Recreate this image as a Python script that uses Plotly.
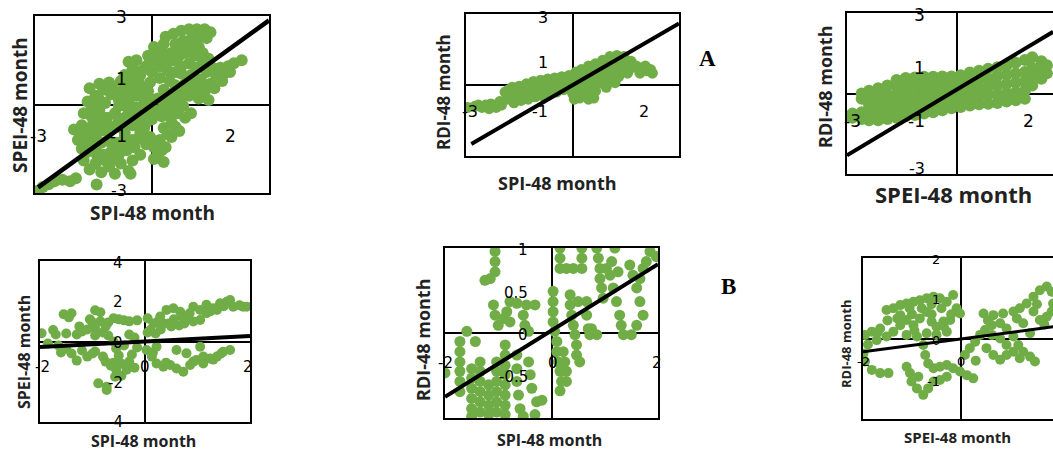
import plotly.graph_objects as go

GREEN = "#70AD47"

# ---------------- Panel 1: SPI-48 vs SPEI-48 ----------------
p1_x = [-2.92,-2.8,-2.65,-2.5,-2.3,-2.1,-1.95,-1.42,
        -1.75,-1.6,-1.45,-1.3,-1.1,-0.95,-0.8,-0.6,-0.5,
        -1.65,-1.45,-1.25,-1.05,-0.85,-0.65,-0.45,-0.3,
        -1.9,-1.7,-1.5,-1.3,-1.1,-0.9,-0.7,-0.5,
        -2.0,-1.8,-1.6,-1.4,-1.2,-0.95,-0.75,-0.5,-0.3,
        -1.75,-1.55,-1.35,-1.15,-0.95,-0.7,-0.45,-0.25,-0.1,
        -1.65,-1.45,-1.25,-1.05,-0.85,-0.6,-0.4,-0.2,
        -1.6,-1.35,-1.1,-0.7,-0.5,-0.3,-0.1,
        -0.7,-0.5,-0.3,-0.15,0.0,-0.6,-0.4,
        -0.1,0.1,0.25,0.05,0.3,0.5,
        0.35,0.55,0.75,0.95,1.15,1.35,1.5,1.4,1.2,1.0,0.8,0.6,0.9,1.2,1.1,0.7,0.4,
        0.15,0.3,0.45,0.6,0.75,0.2,0.4,-0.05,0.1,0.0,-0.2,-0.05,
        0.25,0.4,0.55,0.7,0.85,1.0,1.15,
        0.3,0.5,0.65,0.8,0.95,1.1,1.25,1.4,1.55,
        0.2,0.35,0.5,0.7,0.15,0.05,0.3,
        1.2,1.35,1.5,1.65,1.45,1.0,
        1.75,1.95,2.1,2.3,1.85,
        -0.55,0.05,
        -1.55,-1.35,-1.2,-1.0,-0.85,-0.65,-0.8,-0.6,-0.35,-0.25,-0.45,-0.05,0.15,0.2,0.35,0.55,
        0.65,0.85,1.0,1.3,1.45,1.3,0.95,0.75,1.05,0.9,0.6,0.45,0.3,0.2,0.45,0.6,0.75,1.35,1.6,
        1.8,2.0,0.4,0.6,0.85,0.25,-0.15,-0.35,-0.6,-0.8,-1.0,-1.2,-1.4,-1.55,-1.8,-1.85,-1.65,
        -1.4,-1.15,-0.85,-0.6,-0.35,-0.15,-0.2,-0.4,-0.6,-0.85,-1.5,-1.3,-0.05,-0.25,-0.45,-0.7]
p1_y = [-2.92,-2.8,-2.7,-2.6,-2.55,-2.6,-2.5,-2.71,
        -1.9,-2.2,-2.0,-2.3,-2.1,-2.35,-2.0,-2.25,-1.9,
        -1.6,-1.5,-1.7,-1.6,-1.7,-1.55,-1.45,-1.7,
        -1.2,-1.3,-1.15,-1.3,-1.25,-1.3,-1.1,-1.2,
        -0.85,-0.7,-0.8,-0.65,-0.9,-0.75,-0.8,-0.7,-0.95,
        -0.3,-0.4,-0.2,-0.45,-0.3,-0.45,-0.35,-0.5,-0.2,
        0.1,0.3,0.5,0.35,0.15,0.1,0.3,0.05,
        0.55,0.7,0.75,0.55,0.75,0.6,0.45,
        1.0,1.2,1.0,1.3,1.1,1.45,1.5,
        1.65,1.5,1.8,1.95,2.05,1.75,
        2.3,2.4,2.5,2.55,2.55,2.55,2.45,2.25,2.3,2.2,2.15,2.05,1.9,1.95,1.65,1.65,1.45,
        0.2,0.5,0.8,1.1,1.3,0.9,1.15,0.75,-0.2,-0.5,-0.8,-1.1,
        -0.4,-0.1,0.15,0.4,0.7,1.0,1.25,
        -0.8,-0.6,-0.3,-0.05,0.3,0.55,0.85,1.1,1.25,
        -1.2,-1.45,-1.1,-0.9,-1.65,-1.85,-1.95,
        0.2,0.45,0.7,0.95,0.15,-0.3,
        1.25,1.3,1.4,1.5,1.05,
        -2.35,-1.45,
        -0.05,0.15,0.05,0.55,0.4,0.35,0.8,0.8,0.8,1.15,0.95,1.45,1.7,1.3,1.6,1.5,
        1.9,1.75,1.85,1.75,1.55,1.5,1.4,1.05,0.75,0.5,0.65,0.35,0.05,-0.3,-0.35,-0.05,0.2,0.65,0.55,
        0.8,1.1,-1.0,-0.75,-0.45,-1.55,-1.35,-1.15,-1.3,-1.5,-1.85,-1.9,-1.75,-1.35,-1.5,-0.95,-1.05,
        -0.95,-0.65,-0.55,-0.6,-0.7,-0.6,-1.05,-0.1,-0.2,-0.05,-0.6,-0.45,0.2,0.35,0.5,-0.95]
p1_fit_x = [-2.92, 3.0]
p1_fit_y = [-2.81, 2.85]

# ---------------- Panel 2: SPI-48 vs RDI-48 ----------------
p2_x = [-2.95,-2.75,-2.55,-2.35,-2.15,-2.0,-2.3,
        -1.9,-1.85,-1.7,-1.7,-1.65,-1.5,-1.5,-1.45,-1.3,-1.3,-1.25,-1.1,-1.1,-1.05,
        -0.9,-0.9,-0.85,-0.7,-0.7,-0.65,-0.5,-0.5,-0.45,-0.3,-0.3,-0.25,-0.1,-0.1,-0.05,
        0.1,0.1,0.1,0.05,0.25,0.3,0.3,0.35,0.45,0.5,0.5,0.6,0.65,0.65,0.7,0.75,
        0.85,0.9,0.95,0.95,1.05,1.1,1.15,1.2,1.25,1.3,1.35,1.45,1.5,1.55,1.65,1.7,
        1.8,1.95,2.1,2.25,1.9,0.2,0.45,
        -2.65,-2.45,-2.05,-1.8,-1.6,-1.4,-1.2,-1.0,-0.8,-0.6,-0.4,-0.2,-1.6,-1.4,-1.2,-1.0,-0.8,
        -0.6,-0.4,-0.2,0.0,0.2,0.4,0.6,0.8,1.0,1.2,1.4,0.2,0.4,0.6,0.8,1.0,1.2,1.4,1.6,0.0,0.2,
        0.4,0.6,0.8,1.0,1.3,2.05,2.2]
p2_y = [-0.95,-0.9,-0.95,-1.0,-0.95,-0.85,-0.8,
        -0.3,-0.6,-0.1,-0.45,-0.75,-0.05,-0.35,-0.65,0.05,-0.3,-0.6,0.15,-0.2,-0.5,
        0.2,-0.1,-0.45,0.25,-0.05,-0.35,0.3,0.0,-0.3,0.35,0.05,-0.2,0.4,0.1,-0.15,
        0.55,0.2,-0.2,-0.6,0.65,0.3,-0.1,-0.45,0.8,0.45,0.05,-0.55,-0.25,0.9,0.6,0.2,
        1.05,0.7,0.35,-0.1,1.2,0.85,0.45,0.1,1.25,0.95,0.6,1.2,0.85,0.5,1.0,0.75,
        0.8,0.7,0.6,0.5,0.5,-0.55,-0.6,
        -0.85,-0.85,-0.7,-0.2,-0.25,-0.2,-0.1,0.0,0.05,0.1,0.15,0.2,-0.55,-0.5,-0.45,-0.35,-0.3,
        -0.2,-0.1,-0.05,0.3,0.4,0.55,0.75,0.9,1.0,1.1,1.0,0.0,0.2,0.35,0.5,0.6,0.7,0.75,0.75,-0.35,-0.3,
        -0.25,0.0,0.1,0.2,0.35,0.8,0.65]
p2_fit_x = [-2.85, 3.0]
p2_fit_y = [-2.49, 2.6]

# ---------------- Panel 3: SPEI-48 vs RDI-48 ----------------
p3_x = [-3.05,
        -2.85,-2.85,
        -2.6,-2.6,-2.6,-2.6,
        -2.4,-2.4,-2.4,-2.4,-2.4,
        -2.15,-2.15,-2.15,-2.15,-2.15,
        -1.9,-1.9,-1.9,-1.9,-1.9,
        -1.65,-1.65,-1.65,-1.65,-1.65,-1.65,
        -1.4,-1.4,-1.4,-1.4,-1.4,-1.4,
        -1.15,-1.15,-1.15,-1.15,-1.15,-1.15,
        -0.9,-0.9,-0.9,-0.9,-0.9,-0.9,
        -0.65,-0.65,-0.65,-0.65,-0.65,-0.65,
        -0.4,-0.4,-0.4,-0.4,-0.4,-0.4,
        -0.15,-0.15,-0.15,-0.15,-0.15,
        0.1,0.1,0.1,0.1,0.1,
        0.35,0.35,0.35,0.35,0.35,
        0.6,0.6,0.6,0.6,0.6,
        0.85,0.85,0.85,0.85,0.85,
        1.1,1.1,1.1,1.1,1.1,
        1.35,1.35,1.35,1.35,1.35,
        1.6,1.6,1.6,1.6,1.6,
        1.85,1.85,1.85,1.85,1.85,
        2.05,2.05,2.05,2.05,
        2.3,2.3,2.3,
        2.45,2.45]
p3_y = [-0.85,
        -0.9,-0.75,
        -0.95,-0.7,0.0,-0.2,
        -1.0,-0.7,-0.4,-0.1,0.1,
        -1.0,-0.7,-0.4,-0.1,0.2,
        -0.95,-0.65,-0.35,-0.05,0.3,
        -0.9,-0.6,-0.3,0.0,0.3,0.5,
        -0.85,-0.55,-0.25,0.05,0.35,0.58,
        -0.8,-0.5,-0.2,0.1,0.4,0.6,
        -0.75,-0.45,-0.15,0.15,0.45,0.62,
        -0.7,-0.4,-0.1,0.2,0.5,0.62,
        -0.62,-0.35,-0.05,0.25,0.55,0.63,
        -0.55,-0.25,0.05,0.35,0.63,
        -0.5,-0.2,0.1,0.4,0.68,
        -0.45,-0.15,0.15,0.45,0.78,
        -0.4,-0.1,0.2,0.5,0.85,
        -0.38,-0.05,0.25,0.55,0.92,
        -0.35,-0.05,0.3,0.65,0.98,
        -0.3,0.0,0.35,0.7,1.05,
        -0.25,0.05,0.4,0.75,1.15,
        -0.2,0.1,0.45,0.8,1.25,
        0.3,0.6,0.95,1.35,
        0.55,0.85,1.2,
        0.75,1.05]
p3_fit_x = [-3.0, 2.62]
p3_fit_y = [-2.3, 2.3]

# ---------------- Panel 4: SPI-48 vs SPEI-48 ----------------
p4_x = [-1.97,-1.75,-1.55,-1.4,-1.45,-1.25,-1.1,-0.95,-0.85,-1.05,-0.85,-0.7,-0.75,-0.95,
        -0.6,-0.4,-0.15,0.05,-1.5,-1.3,-0.95,-0.8,
        -1.85,-1.65,-1.5,-1.4,-1.2,-1.1,-0.95,-0.8,-1.6,-1.3,-0.75,
        -0.7,-0.6,-0.55,-0.5,-0.6,-0.55,-0.45,-0.35,-0.3,-0.25,-0.15,-0.2,-0.4,-0.3,-0.2,
        -0.89,-0.73,-0.73,-0.57,
        0.1,0.16,0.29,0.41,0.54,0.67,0.79,0.92,1.05,1.17,1.3,1.43,1.56,1.68,1.87,1.94,
        1.05,0.92,1.17,1.37,1.62,
        0.05,0.2,0.3,0.45,0.55,0.35,0.5,0.65,0.75,
        0.03,0.13,0.22,0.35,0.48,0.6,0.73,0.86,0.98,1.11,1.24,1.37,1.49,1.62,0.79,0.6,1.05,0.22,0.92,1.11,
        0.25,0.7,0.85,1.25,1.5,1.8,1.45,1.3,0.4,0.15,-1.0,-1.2,-0.5,-0.3,-0.65,-1.7,-1.0,-0.45]
p4_y = [0.41,0.57,1.35,1.4,1.2,0.75,0.6,1.55,1.45,1.1,1.0,0.95,0.75,0.65,
        1.15,1.05,1.05,1.15,0.4,0.35,0.3,0.45,
        -0.1,-0.2,-0.35,-0.6,-0.45,-0.75,-0.5,-0.75,-0.55,-0.95,-1.0,
        0.3,0.0,-0.35,-0.7,-1.05,-1.4,-1.7,-1.4,-1.0,-0.65,-0.3,-1.3,-0.2,0.35,0.2,
        -2.08,-2.25,-2.41,-1.75,
        0.57,0.9,1.24,1.57,1.65,1.48,1.24,0.99,1.07,1.4,1.65,1.9,1.98,1.73,1.73,1.73,
        1.57,1.73,1.82,1.57,2.06,
        0.45,0.4,0.6,0.9,1.1,0.9,0.75,0.8,0.9,
        -0.42,-0.75,-1.09,-1.25,-1.17,-1.34,-1.5,-1.17,-0.92,-0.75,-0.84,-0.75,-0.51,-0.42,-0.59,-0.42,-0.26,-0.26,-1.0,-1.09,
        1.0,1.25,1.4,1.5,1.75,1.8,-0.6,-0.9,-1.05,-0.55,0.95,0.5,1.1,1.0,-1.2,0.35,-0.6,-1.1]
p4_fit_x = [-2.0, 2.0]
p4_fit_y = [-0.27, 0.27]

# ---------------- Panel 5: SPI-48 vs RDI-48 ----------------
p5_x = [-2.0,
        -1.72,-1.72,-1.72,-1.72,-1.72,-1.72,-1.59,-1.43,
        -1.5,-1.5,-1.5,-1.5,-1.5,-1.5,
        -1.34,-1.34,-1.34,-1.34,-1.34,-1.34,
        -1.18,-1.18,-1.18,-1.18,
        -1.03,-1.03,-1.03,-1.03,-1.03,-1.03,
        -0.87,-0.87,-0.87,-0.87,-0.87,-0.87,-0.87,-0.87,
        -0.65,-0.65,-0.65,-0.62,-0.59,-0.53,
        -0.43,-0.4,-0.37,-0.31,-0.28,-0.18,
        -1.06,-1.06,-1.06,-1.15,-1.25,
        -1.09,-1.06,-1.0,-0.9,-0.84,-0.78,-0.65,-0.47,-0.31,-0.78,-0.53,-0.5,-0.43,
        0.03,0.03,0.03,0.03,0.06,0.1,0.1,0.13,0.16,0.19,0.22,0.25,0.28,0.28,0.16,
        0.16,0.16,0.16,0.28,0.41,0.57,0.57,0.57,
        0.35,0.35,0.38,0.41,0.44,0.47,0.47,0.53,0.5,
        0.66,0.66,0.69,0.72,
        0.85,0.88,0.91,0.91,0.94,0.97,0.75,0.85,
        1.19,1.13,1.1,1.16,1.22,1.28,1.31,1.35,1.03,1.25,
        1.47,1.53,1.6,1.66,1.72,1.6,1.5,1.72,1.66,
        1.85,1.97,1.78]
p5_y = [-0.47,
        -0.1,-0.22,-0.34,-0.45,-0.57,-0.69,0.02,-0.1,
        -0.42,-0.53,-0.65,-0.77,-0.89,-0.98,
        -0.34,-0.45,-0.57,-0.69,-0.81,-0.93,
        -0.61,-0.73,-0.85,-0.96,
        -0.34,-0.45,-0.57,-0.69,-0.81,-0.93,
        -0.14,-0.26,-0.38,-0.49,-0.61,-0.73,-0.85,-0.96,
        -0.26,-0.42,-0.57,-0.73,-0.89,-0.98,
        -0.34,-0.49,-0.65,-0.96,-0.81,-0.79,
        0.96,0.84,0.72,0.64,0.62,
        0.33,0.21,0.09,0.17,0.25,0.37,0.35,0.33,0.33,0.13,0.21,0.09,0.02,
        0.49,0.37,0.25,0.13,0.02,-0.1,-0.22,-0.34,-0.45,-0.57,-0.22,-0.34,-0.45,-0.57,-0.68,
        1.0,0.88,0.76,0.76,0.76,1.0,0.88,0.76,
        0.45,0.33,0.21,0.09,-0.02,-0.14,-0.26,-0.34,0.37,
        0.37,0.21,0.05,-0.02,
        1.0,0.88,0.76,0.64,0.53,0.41,0.05,-0.02,
        1.0,0.84,0.68,0.53,0.37,0.21,0.09,-0.02,0.76,0.72,
        0.8,0.68,0.53,0.37,0.21,0.09,-0.02,0.76,0.64,
        0.96,0.9,0.84]
p5_fit_x = [-2.0, 2.0]
p5_fit_y = [-0.75, 0.81]

# ---------------- Panel 6: SPEI-48 vs RDI-48 ----------------
p6_x = [-1.96,-1.82,-1.65,-1.52,-1.38,-1.24,-1.11,-0.97,-0.84,-0.7,-0.56,-0.43,-0.29,-0.16,-0.09,-0.02,
        -1.24,-1.11,-0.97,-0.84,-0.7,-0.6,-0.5,-0.36,-0.22,-1.24,-1.38,-1.52,-1.72,-1.11,-0.9,-0.7,-0.5,-0.29,
        -1.99,-1.96,-1.82,-1.65,-1.48,-0.77,-0.73,-0.67,-0.56,-0.43,-0.29,-0.16,-0.02,0.12,0.25,
        -1.04,-1.01,-0.9,-0.77,-0.67,-0.56,-0.43,-0.29,-0.87,-1.11,
        0.08,0.18,0.29,0.39,0.49,0.63,0.8,0.93,1.07,1.17,1.27,1.41,1.51,0.52,0.66,0.8,0.93,
        0.46,0.66,0.86,1.07,1.2,1.34,1.48,1.61,1.75,1.85,1.48,1.61,1.75,1.85,1.88,1.27,1.41,1.14,
        0.8,0.63,0.93,1.07,1.2,
        -1.3,-1.0,-0.8,-0.6,-0.4,-0.2,-1.5,-1.7,-1.9,-1.05,-0.95,-0.6,-0.35,0.3,0.55,1.55,1.7]
p6_y = [0.09,0.17,0.25,0.71,0.75,0.83,0.87,0.91,0.95,1.0,1.04,1.0,0.91,1.08,0.75,0.62,
        0.58,0.46,0.33,0.5,0.66,0.42,0.29,0.42,0.46,0.33,0.17,0.05,-0.04,0.09,0.05,0.13,0.09,0.17,
        -0.37,-0.57,-0.78,-0.86,-0.86,-0.16,-0.41,-0.62,-0.74,-0.7,-0.66,-0.74,-0.82,-0.91,-0.99,
        -0.86,-1.07,-1.24,-1.4,-1.24,-1.07,-1.03,-0.95,-0.95,-0.7,
        -0.41,-0.24,-0.08,0.09,0.21,0.33,0.38,0.25,0.05,-0.16,-0.33,-0.45,-0.57,-0.24,-0.41,-0.53,-0.41,
        0.62,0.58,0.62,0.67,0.75,0.87,1.04,1.2,1.29,1.16,0.67,0.46,0.54,0.67,0.87,0.38,0.13,0.5,
        0.0,0.09,-0.16,-0.33,-0.49,
        0.5,0.6,0.75,0.85,0.75,0.6,0.45,0.15,-0.15,0.75,0.2,0.6,0.3,-0.55,0.45,0.85,0.35]
p6_fit_x = [-2.0, 1.88]
p6_fit_y = [-0.33, 0.29]

W, H = 1053, 451

def fx(px):
    return px / W

def fy(py):
    return 1 - py / H

panels = [
    dict(x=p1_x, y=p1_y, fx=p1_fit_x, fy=p1_fit_y, dx=(35, 269), dy=(16, 193), xr=[-3, 3], yr=[-3, 3], ms=12, lw=4.5, right=True),
    dict(x=p2_x, y=p2_y, fx=p2_fit_x, fy=p2_fit_y, dx=(466, 679), dy=(14, 156), xr=[-3, 3], yr=[-3, 3], ms=11, lw=4, right=True),
    dict(x=p3_x, y=p3_y, fx=p3_fit_x, fy=p3_fit_y, dx=(847, 1053), dy=(13, 174), xr=[-3, 2.616], yr=[-3, 3], ms=12, lw=4, right=False),
    dict(x=p4_x, y=p4_y, fx=p4_fit_x, fy=p4_fit_y, dx=(40, 250), dy=(261, 422), xr=[-2, 2], yr=[-4, 4], ms=10, lw=4, right=True),
    dict(x=p5_x, y=p5_y, fx=p5_fit_x, fy=p5_fit_y, dx=(445, 658), dy=(248, 418), xr=[-2, 2], yr=[-1, 1], ms=11, lw=4, right=True),
    dict(x=p6_x, y=p6_y, fx=p6_fit_x, fy=p6_fit_y, dx=(863, 1053), dy=(258, 419), xr=[-2, 1.878], yr=[-2, 2], ms=10, lw=3, right=False),
]

fig = go.Figure()
layout = dict(width=W, height=H, margin=dict(l=0, r=0, t=0, b=0),
              paper_bgcolor="white", plot_bgcolor="white", showlegend=False)

for i, p in enumerate(panels, start=1):
    xa = "x" if i == 1 else f"x{i}"
    ya = "y" if i == 1 else f"y{i}"
    fig.add_trace(go.Scatter(x=p["x"], y=p["y"], mode="markers", xaxis=xa, yaxis=ya,
                             marker=dict(color=GREEN, size=p["ms"], line=dict(width=0)),
                             hoverinfo="skip"))
    fig.add_trace(go.Scatter(x=p["fx"], y=p["fy"], mode="lines", xaxis=xa, yaxis=ya,
                             line=dict(color="black", width=p["lw"]), hoverinfo="skip"))
    xkey = "xaxis" if i == 1 else f"xaxis{i}"
    ykey = "yaxis" if i == 1 else f"yaxis{i}"
    layout[xkey] = dict(domain=[fx(p["dx"][0]), fx(p["dx"][1])], range=p["xr"], anchor=ya,
                        showgrid=False, showticklabels=False, ticks="",
                        zeroline=True, zerolinecolor="black", zerolinewidth=1.5,
                        showline=True, linecolor="black", linewidth=1.5, mirror=True)
    layout[ykey] = dict(domain=[fy(p["dy"][1]), fy(p["dy"][0])], range=p["yr"], anchor=xa,
                        showgrid=False, showticklabels=False, ticks="",
                        zeroline=True, zerolinecolor="black", zerolinewidth=1.5,
                        showline=True, linecolor="black", linewidth=1.5, mirror=p["right"])

fig.update_layout(**layout)

TICK_FONT = "DejaVu Sans"
TITLE_FONT = "Open Sans"

# tick labels: (panel, text, x, y, xanchor, size)
tick_labels = [
    (1, "3", -0.59, 2.95, "right", 17), (1, "1", -0.59, 0.85, "right", 17),
    (1, "-1", -0.59, -1.08, "right", 17), (1, "-3", -0.59, -2.9, "right", 16),
    (1, "-3", -2.9, -1.08, "center", 17), (1, "2", 2.0, -1.08, "center", 17),
    (2, "3", -0.62, 2.87, "right", 16), (2, "1", -0.62, 0.93, "right", 16),
    (2, "-1", -0.62, -1.14, "right", 16), (2, "-3", -0.62, -3.08, "right", 16),
    (2, "-3", -2.9, -1.14, "center", 16), (2, "2", 2.0, -1.14, "center", 16),
    (3, "3", -0.82, 2.93, "right", 17), (3, "1", -0.82, 0.96, "right", 17),
    (3, "-1", -0.82, -1.04, "right", 17), (3, "-3", -0.82, -2.8, "right", 16),
    (3, "-3", -2.86, -1.04, "center", 17), (3, "2", 1.94, -1.04, "center", 17),
    (4, "4", -0.38, 3.9, "right", 15), (4, "2", -0.38, 1.97, "right", 15),
    (4, "0", -0.38, -0.07, "right", 15), (4, "-2", -0.38, -2.06, "right", 15),
    (4, "-4", -0.38, -4.0, "right", 15),
    (4, "-2", -1.96, -1.27, "center", 15), (4, "0", 0.0, -1.27, "center", 15), (4, "2", 1.96, -1.27, "center", 15),
    (5, "1", -0.4, 0.98, "right", 15), (5, "0.5", -0.4, 0.47, "right", 15),
    (5, "0", -0.4, -0.02, "right", 15), (5, "-0.5", -0.4, -0.52, "right", 15),
    (5, "-1", -0.4, -1.02, "right", 15),
    (5, "-2", -2.0, -0.35, "center", 15), (5, "0", 0.03, -0.35, "center", 15), (5, "2", 1.98, -0.35, "center", 15),
    (6, "2", -0.39, 1.97, "right", 13), (6, "1", -0.39, 0.96, "right", 13),
    (6, "0", -0.39, -0.06, "right", 13), (6, "-1", -0.39, -1.08, "right", 13),
    (6, "-2", -0.39, -2.07, "right", 13),
    (6, "-2", -2.0, -0.56, "center", 13), (6, "0", 0.0, -0.56, "center", 13),
]

annotations = []
for (pi, txt, x, y, xa, sz) in tick_labels:
    annotations.append(dict(text=txt, x=x, y=y, xref="x" if pi == 1 else f"x{pi}",
                            yref="y" if pi == 1 else f"y{pi}", xanchor=xa, yanchor="middle",
                            showarrow=False, font=dict(family=TICK_FONT, size=sz, color="black")))

# axis titles: (text, px, py, angle, size)
axis_titles = [
    ("SPEI-48 month", 20, 105, -90, 19), ("SPI-48 month", 152, 213, 0, 19),
    ("RDI-48 month", 443, 92, -90, 17), ("SPI-48 month", 557, 183, 0, 18),
    ("RDI-48 month", 825, 87, -90, 18), ("SPEI-48 month", 953, 194, 0, 22),
    ("SPEI-48 month", 24, 352, -90, 16), ("SPI-48 month", 143, 441, 0, 16),
    ("RDI-48 month", 423, 340, -90, 18), ("SPI-48 month", 550, 440, 0, 16),
    ("RDI-48 month", 846, 344, -90, 13), ("SPEI-48 month", 957, 437, 0, 15),
]
for (txt, px, py, ang, sz) in axis_titles:
    annotations.append(dict(text="<b>%s</b>" % txt, x=fx(px), y=fy(py), xref="paper", yref="paper",
                            xanchor="center", yanchor="middle", textangle=ang, showarrow=False,
                            font=dict(family=TITLE_FONT, size=sz, color="#222222")))

for (txt, px, py) in [("A", 707, 58), ("B", 728, 286)]:
    annotations.append(dict(text="<b>%s</b>" % txt, x=fx(px), y=fy(py), xref="paper", yref="paper",
                            xanchor="center", yanchor="middle", showarrow=False,
                            font=dict(family="Liberation Serif", size=23, color="black")))

fig.update_layout(annotations=annotations)
fig.write_html("out.html")
